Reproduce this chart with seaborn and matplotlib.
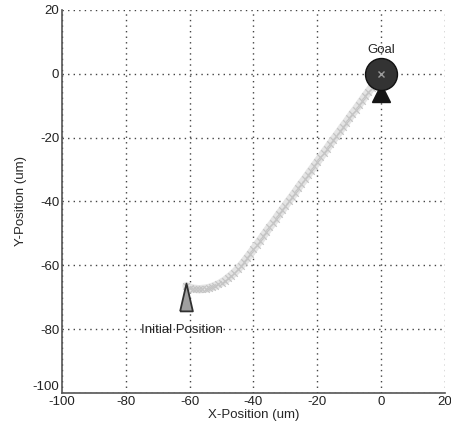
import matplotlib
matplotlib.use("Agg")
import matplotlib.pyplot as plt
import seaborn as sns
from pandas import DataFrame

# trajectory (um)
path_x = [-61, -60, -59, -58, -57, -56, -55, -54, -53, -52, -51, -50, -49, -48,
          -47, -46, -45, -44, -43, -42, -41, -40, -39, -38, -37, -36, -35, -34,
          -33, -32, -31, -30, -29, -28, -27, -26, -25, -24, -23, -22, -21, -20,
          -19, -18, -17, -16, -15, -14, -13, -12, -11, -10, -9, -8, -7, -6,
          -5, -4, -3, -2, -1, 0]
path_y = [-66.5, -67.0, -67.3, -67.4, -67.5, -67.4, -67.3, -67.1, -66.8, -66.4,
          -66.0, -65.4, -64.8, -64.0, -63.2, -62.3, -61.3, -60.2, -59.0, -57.7,
          -56.4, -55.0, -53.6, -52.3, -50.9, -49.5, -48.1, -46.8, -45.4, -44.0,
          -42.7, -41.3, -39.9, -38.6, -37.2, -35.8, -34.4, -33.1, -31.7, -30.3,
          -29.0, -27.6, -26.2, -24.8, -23.5, -22.1, -20.7, -19.4, -18.0, -16.6,
          -15.3, -13.9, -12.5, -11.2, -9.8, -8.4, -7.0, -5.7, -4.3, -2.9,
          -1.5, 0.0]

start_x, start_y = [-61], [-70]
goal_x, goal_y = [0], [0]
goal_base_x, goal_base_y = [0], [-6]

x_ticks = [-100, -80, -60, -40, -20, 0, 20]
y_ticks = [-100, -80, -60, -40, -20, 0, 20]

sns.set_style("white")
plt.rcParams['font.family'] = ['Liberation Sans', 'DejaVu Sans']
plt.rcParams['axes.unicode_minus'] = False

fig = plt.figure(figsize=(4.51, 4.34), dpi=100)
ax = fig.add_axes([0.1375, 0.0945, 0.849, 0.8825])

df = DataFrame({'x': path_x, 'y': path_y})
sns.lineplot(data=df, x='x', y='y', sort=False, ax=ax, color='#e4e4e4',
             linewidth=6, zorder=2)
sns.scatterplot(data=df, x='x', y='y', ax=ax, marker='x', color='#c4c4c4',
                s=22, linewidth=0.9, zorder=3)

# initial position: tall narrow triangle
tri = [(-0.46, -1), (0.46, -1), (0, 1), (-0.46, -1)]
ax.plot(start_x, start_y, marker=tri, markersize=20, color='#a0a0a0',
        markeredgecolor='#303030', markeredgewidth=1.3, linestyle='none', zorder=4)

# goal: base triangle + big circle
ax.plot(goal_base_x, goal_base_y, marker='^', markersize=13, color='#151515',
        linestyle='none', zorder=4)
ax.plot(goal_x, goal_y, marker='o', markersize=23, color='#333333',
        markeredgecolor='#111111', linestyle='none', zorder=5)
ax.plot(goal_x, goal_y, marker='x', markersize=4, color='#9a9a9a',
        markeredgewidth=1, linestyle='none', zorder=6)

ax.text(0, 7.5, 'Goal', ha='center', va='center', fontsize=9.5)
ax.text(-62.5, -80.3, 'Initial Position', ha='center', va='center', fontsize=9.5)

ax.set_xlim(-100, 20)
ax.set_ylim(-100, 20)
ax.set_xticks(x_ticks)
ax.set_yticks(y_ticks)
ax.tick_params(direction='in', length=3, labelsize=9.5, colors='#222222', pad=2)
ax.grid(True, linestyle=(0, (1, 3)), color='#444444', linewidth=1)
for side in ['top', 'right']:
    ax.spines[side].set_visible(False)
for side in ['left', 'bottom']:
    ax.spines[side].set_color('#555555')
    ax.spines[side].set_linewidth(1.2)
ax.set_xlabel('X-Position (um)', fontsize=9.5, labelpad=1)
ax.set_ylabel('Y-Position (um)', fontsize=9.5, labelpad=4)

# lowest y label sits just above the x one, as in the original
ax.get_yticklabels()[0].set_verticalalignment('bottom')

fig.savefig('out.png', dpi=100)
